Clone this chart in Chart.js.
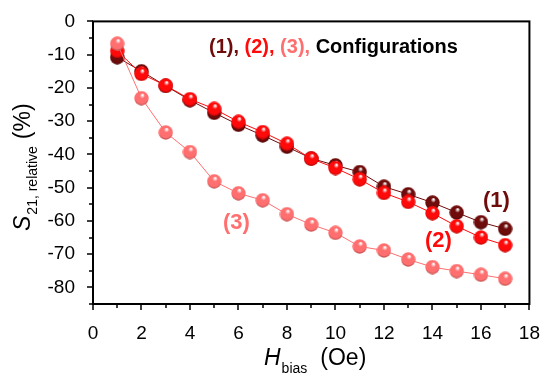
<!DOCTYPE html>
<html>
<head>
<meta charset="utf-8">
<script src="https://cdn.jsdelivr.net/npm/chart.js@4/dist/chart.umd.min.js"></script>
<style>
  html, body { margin: 0; padding: 0; background: #fff; }
  #wrap { width: 550px; height: 380px; }
</style>
</head>
<body>
<div id="wrap"><canvas id="s21"></canvas></div>
<script>
// data
const hBias = [1, 2, 3, 4, 5, 6, 7, 8, 9, 10, 11, 12, 13, 14, 15, 16, 17];
const config1 = [-10.8, -15.0, -19.4, -23.7, -27.5, -31.1, -34.3, -37.7, -41.2, -43.3, -45.3, -49.7, -52.0, -54.5, -57.5, -60.4, -62.4];
const config2 = [-8.9, -15.8, -19.3, -23.4, -26.3, -30.2, -33.3, -36.8, -41.3, -44.1, -47.5, -51.6, -54.3, -57.7, -61.6, -65.0, -67.3];
const config3 = [-6.7, -23.1, -33.4, -39.3, -48.1, -51.7, -53.8, -58.0, -61.1, -63.6, -67.7, -68.9, -71.6, -73.9, -75.1, -76.2, -77.4];
const xTickValues = [0, 2, 4, 6, 8, 10, 12, 14, 16, 18];
const yTickValues = [-80, -70, -60, -50, -40, -30, -20, -10, 0];

const dark = '#6e0b0b';
const red = '#ff0a0a';
const light = '#ff6f6f';
const FONT = '"Liberation Sans", Arial, sans-serif';

// shaded ball used as point marker
function ball(color) {
  const r = 7.5;
  const c = document.createElement('canvas');
  c.width = c.height = 2 * r;
  const g = c.getContext('2d');
  const grad = g.createRadialGradient(r * 1.15, r * 0.55, 0.5, r, r, r);
  grad.addColorStop(0, '#ffffff');
  grad.addColorStop(0.3, color);
  grad.addColorStop(1, color);
  g.fillStyle = grad;
  g.beginPath();
  g.arc(r, r, r - 0.3, 0, Math.PI * 2);
  g.fill();
  g.fillStyle = 'rgba(0,0,0,0.18)';
  g.beginPath();
  g.arc(r, r, r - 0.3, 0.15 * Math.PI, 0.85 * Math.PI);
  g.arc(r, r * 0.85, r * 0.9, 0.85 * Math.PI, 0.15 * Math.PI, true);
  g.fill();
  return c;
}

function series(label, values, color, order) {
  return {
    label: label,
    data: hBias.map((x, i) => ({ x: x, y: values[i] })),
    borderColor: color,
    borderWidth: 1,
    pointStyle: ball(color),
    pointRadius: 7.5,
    order: order
  };
}

// frame, minor ticks, axis titles and labels
const decor = {
  id: 'decor',
  afterDraw(chart) {
    const ctx = chart.ctx;
    const a = chart.chartArea;
    const xs = chart.scales.x, ys = chart.scales.y;
    ctx.save();
    ctx.strokeStyle = '#000';
    ctx.lineWidth = 2;
    ctx.strokeRect(a.left, a.top, a.right - a.left, a.bottom - a.top);
    ctx.lineWidth = 1.5;
    ctx.beginPath();
    for (let v = 0; v <= 18; v++) {
      const px = Math.round(xs.getPixelForValue(v));
      const len = v % 2 === 0 ? 6 : 4;
      ctx.moveTo(px, a.bottom);
      ctx.lineTo(px, a.bottom + len);
    }
    for (let v = -85; v <= 0; v += 5) {
      const py = Math.round(ys.getPixelForValue(v));
      const len = v % 10 === 0 ? 6 : 4;
      ctx.moveTo(a.left, py);
      ctx.lineTo(a.left - len, py);
    }
    ctx.stroke();

    // x title: H_bias (Oe)
    ctx.fillStyle = '#000';
    ctx.textBaseline = 'alphabetic';
    ctx.textAlign = 'left';
    let x = 264, y = 365;
    ctx.font = 'italic 23px ' + FONT;
    ctx.fillText('H', x, y);
    x += ctx.measureText('H').width + 1;
    ctx.font = '14px ' + FONT;
    ctx.fillText('bias', x, y + 8);
    x += ctx.measureText('bias').width + 13;
    ctx.font = '23px ' + FONT;
    ctx.fillText('(Oe)', x, y);

    // y title: S_21, relative (%)
    ctx.save();
    ctx.translate(30, 231);
    ctx.rotate(-Math.PI / 2);
    x = 0; y = 0;
    ctx.font = 'italic 23px ' + FONT;
    ctx.fillText('S', x, y);
    x += ctx.measureText('S').width + 1;
    ctx.font = '14px ' + FONT;
    ctx.fillText('21, relative', x, y + 7);
    x += ctx.measureText('21, relative').width + 7;
    ctx.font = '23px ' + FONT;
    ctx.fillText('(%)', x, y);
    ctx.restore();

    // legend-like caption
    ctx.font = 'bold 20px ' + FONT;
    x = 209; y = 53;
    const parts = [['(1), ', dark], ['(2), ', red], ['(3), ', light], ['Configurations', '#000']];
    parts.forEach(p => {
      ctx.fillStyle = p[1];
      ctx.fillText(p[0], x, y);
      x += ctx.measureText(p[0]).width;
    });

    // series tags
    ctx.font = 'bold 22px ' + FONT;
    ctx.fillStyle = dark; ctx.fillText('(1)', 483, 207);
    ctx.fillStyle = red; ctx.fillText('(2)', 425, 247);
    ctx.fillStyle = light; ctx.fillText('(3)', 223, 229);
    ctx.restore();
  }
};

new Chart(document.getElementById('s21'), {
  type: 'line',
  data: {
    datasets: [
      series('(1)', config1, dark, 2),
      series('(2)', config2, red, 1),
      series('(3)', config3, light, 0)
    ]
  },
  options: {
    responsive: true,
    maintainAspectRatio: false,
    animation: false,
    layout: { padding: { left: 0, top: 13, right: 15, bottom: 0 } },
    plugins: { legend: { display: false }, tooltip: { enabled: false } },
    scales: {
      x: {
        type: 'linear',
        min: 0,
        max: 18,
        afterBuildTicks: s => { s.ticks = xTickValues.map(v => ({ value: v })); },
        afterFit: s => { s.height = 76; },
        grid: { display: false },
        border: { display: false },
        ticks: { color: '#000', font: { family: FONT, size: 19 }, padding: 10, maxRotation: 0 }
      },
      y: {
        type: 'linear',
        min: -85,
        max: 0,
        afterBuildTicks: s => { s.ticks = yTickValues.map(v => ({ value: v })); },
        afterFit: s => { s.width = 93; },
        grid: { display: false },
        border: { display: false },
        ticks: { color: '#000', font: { family: FONT, size: 19 }, padding: 10 }
      }
    }
  },
  plugins: [decor]
});
</script>
</body>
</html>
